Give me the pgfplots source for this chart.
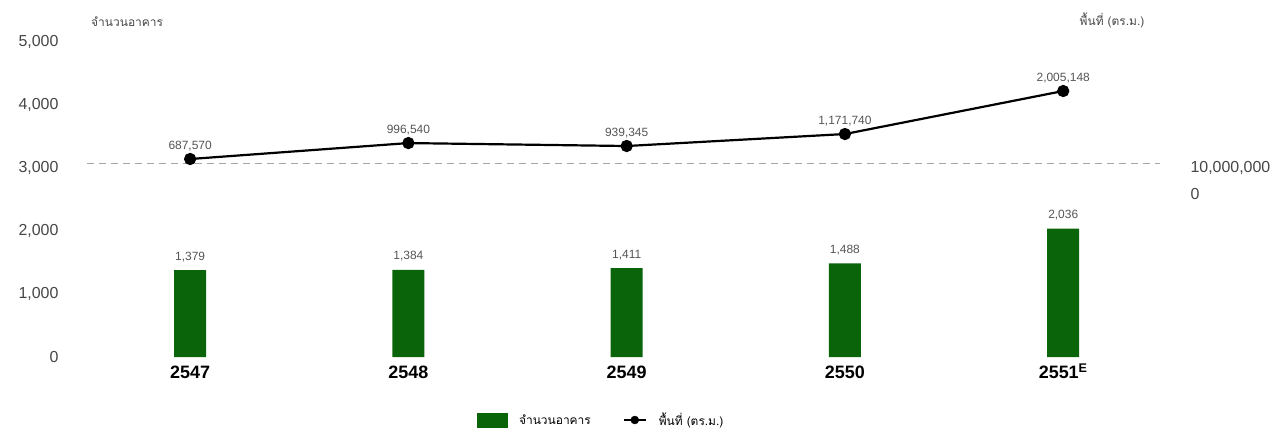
\documentclass[border=0pt]{standalone}
\usepackage{pgfplots}
\pgfplotsset{compat=1.18}
\usepackage{fontspec}
\setmainfont{Liberation Sans}
\newfontfamily\thaifont[Script=Thai]{Loma}
\definecolor{bargreen}{RGB}{10,100,10}
\definecolor{ticktxt}{RGB}{70,70,70}
\definecolor{lbltxt}{RGB}{85,85,85}
\begin{document}
\begin{tikzpicture}[x=1bp,y=1bp]
\useasboundingbox (0,0) rectangle (1271,430);
\begin{axis}[
  at={(62bp,73bp)}, anchor=south west,
  scale only axis, width=1123bp, height=315bp,
  xmin=-0.587, xmax=4.558, ymin=0, ymax=5000,
  axis line style={draw=none}, major tick length=0pt,
  ytick={0,1000,2000,3000,4000,5000},
  scaled y ticks=false,
  /pgf/number format/1000 sep={,},
  /pgf/number format/assume math mode=true,
  yticklabel style={font=\fontsize{16}{16}\selectfont, text=ticktxt},
  xtick={0,1,2,3,4},
  xticklabels={2547,2548,2549,2550,2551\textsuperscript{E}},
  xticklabel style={font=\fontsize{18}{18}\selectfont\bfseries, text height=13bp, text depth=0bp, yshift=-5bp},
  ylabel={\thaifont จำนวนอาคาร},
  every axis y label/.style={at={(axis description cs:0.058,1.063)}, anchor=center, font=\fontsize{12}{12}\selectfont, text=ticktxt},
  legend style={at={(0.48,-0.2)}, anchor=center, draw=none, fill=none,
    legend columns=2, font=\thaifont\fontsize{12}{12}\selectfont,
    /tikz/every odd column/.append style={column sep=10bp},
    /tikz/every even column/.append style={column sep=30bp}},
]
\addlegendimage{legend image code/.code={\fill[bargreen] (0bp,-7bp) rectangle (30bp,7bp);}}
\addlegendentry{จำนวนอาคาร}
\addlegendimage{legend image code/.code={\draw[black,line width=2bp] (0bp,0bp) -- (22bp,0bp); \fill[black] (11bp,0bp) circle (4bp);}}
\addlegendentry{พื้นที่ (ตร.ม.)}
\addplot[ybar, bar width=32bp, fill=bargreen, draw=none,
  point meta=explicit symbolic,
  nodes near coords,
  every node near coord/.append style={font=\fontsize{12}{12}\selectfont, text=lbltxt, yshift=5bp}]
  coordinates {(0,1379) [1,379] (1,1384) [1,384] (2,1411) [1,411] (3,1488) [1,488] (4,2036) [2,036]};
\addplot[gray!70, line width=1bp, dash pattern=on 7bp off 5bp, forget plot]
  coordinates {(-0.471,3079) (4.443,3079)};
\end{axis}
\begin{axis}[
  at={(62bp,73bp)}, anchor=south west,
  scale only axis, width=1123bp, height=315bp,
  xmin=-0.587, xmax=4.558, ymin=-3148600, ymax=2954800,
  axis x line=none, axis y line*=right,
  axis line style={draw=none}, major tick length=0pt,
  scaled y ticks=false,
  ytick={0,513500}, yticklabels={0,{10,000,000}},
  yticklabel style={font=\fontsize{16}{16}\selectfont, text=ticktxt, xshift=2bp},
  ylabel={\thaifont พื้นที่ (ตร.ม.)},
  every axis y label/.style={at={(axis description cs:0.935,1.07)}, anchor=center, font=\fontsize{12}{12}\selectfont, text=ticktxt},
]
\addplot[black, line width=2.2bp, mark=*, mark size=5bp,
  point meta=explicit symbolic,
  nodes near coords,
  every node near coord/.append style={font=\fontsize{12}{12}\selectfont, text=lbltxt, yshift=4bp}]
  coordinates {(0,687570) [687,570] (1,996540) [996,540] (2,939345) [939,345] (3,1171740) [1,171,740] (4,2005148) [2,005,148]};
\end{axis}
\end{tikzpicture}
\end{document}
